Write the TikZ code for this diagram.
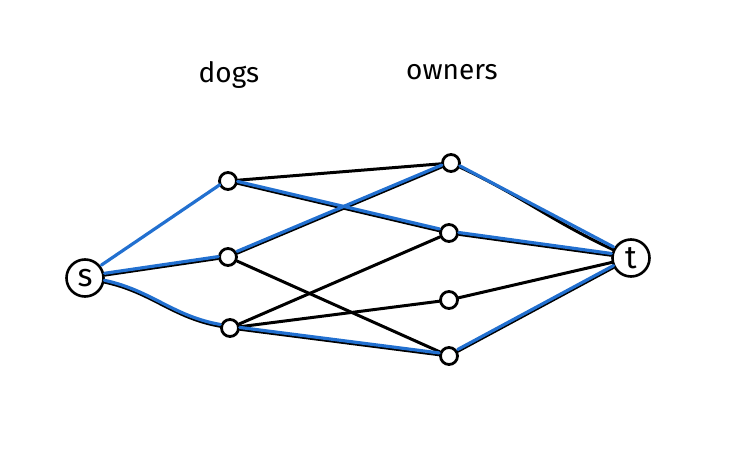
\documentclass[tikz,border=0pt]{standalone}
\usepackage{fontspec}
\setmainfont{Fira Sans}
\definecolor{penblue}{RGB}{34,112,208}
\begin{document}
\begin{tikzpicture}[x=1pt,y=-1pt,
  small/.style={circle,draw=black,line width=2.8pt,minimum size=17pt,inner sep=0pt},
  big/.style={circle,draw=black,line width=2.6pt,minimum size=37pt,inner sep=0pt,font=\fontsize{32}{32}\selectfont},
  blk/.style={draw=black,line width=3pt,line cap=round},
  blu/.style={draw=penblue,line width=3.2pt,line cap=round,transform canvas={yshift=1.8pt}},
  lbl/.style={font=\fontsize{28}{28}\selectfont}]
\useasboundingbox (0,0) rectangle (737,454);
\node[big] (s) at (85,278) {s};
\node[big] (t) at (631,258) {t};
\node[small] (d1) at (228,181) {};
\node[small] (d2) at (228,257) {};
\node[small] (d3) at (230,328) {};
\node[small] (o1) at (451,163) {};
\node[small] (o2) at (449,233) {};
\node[small] (o3) at (449,300) {};
\node[small] (o4) at (449,356) {};
\node[lbl] (ldogs) at (229,75) {dogs};
\node[lbl] (lowners) at (452,72) {owners};
% black edges
\draw[blk] (s) -- (d2);
\draw[blk] (s) to[out=-12,in=170] (d3);
\draw[blk] (d1) -- (o1);
\draw[blk] (d1) -- (o2);
\draw[blk] (d2) -- (o1);
\draw[blk] (d2) -- (o4);
\draw[blk] (d3) -- (o2);
\draw[blk] (d3) -- (o3);
\draw[blk] (d3) -- (o4);
\draw[blk] (o1) to[out=-25,in=155] (t);
\draw[blk] (o2) -- (t);
\draw[blk] (o3) -- (t);
\draw[blk] (o4) -- (t);
% blue edges
\draw[blu] (s) -- (d1);
\draw[blu] (s) -- (d2);
\draw[blu] (s) to[out=-12,in=170] (d3);
\draw[blu] (d1) -- (o2);
\draw[blu] (d2) -- (o1);
\draw[blu] (d3) -- (o4);
\draw[blu] (o1) -- (t);
\draw[blu] (o2) -- (t);
\draw[blu] (o4) -- (t);
\end{tikzpicture}
\end{document}
